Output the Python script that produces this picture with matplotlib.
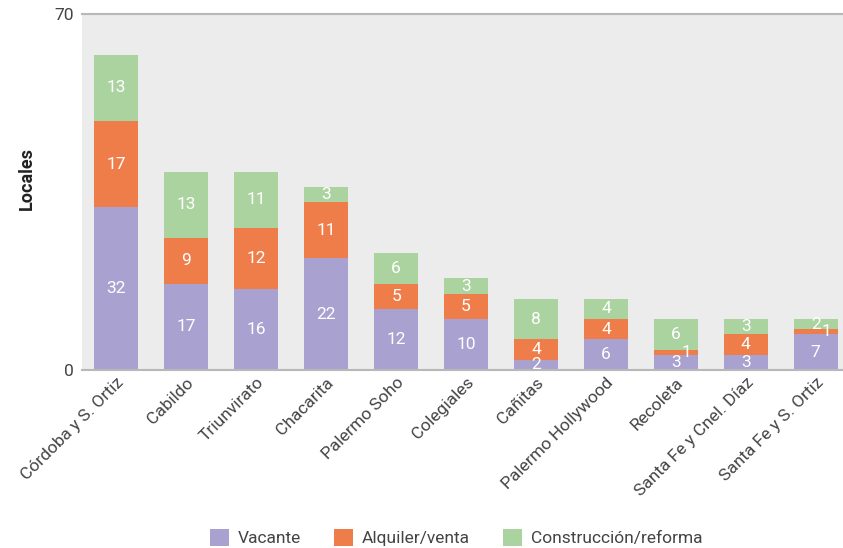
import matplotlib.pyplot as plt
from matplotlib.patches import Patch
import numpy as np

plt.rcParams['font.family'] = ['Roboto', 'DejaVu Sans']

barrios = ["Córdoba y S. Ortiz", "Cabildo", "Triunvirato", "Chacarita", "Palermo Soho",
           "Colegiales", "Cañitas", "Palermo Hollywood", "Recoleta",
           "Santa Fe y Cnel. Díaz", "Santa Fe y S. Ortiz"]
vacante      = [32, 17, 16, 22, 12, 10, 2, 6, 3, 3, 7]
alquiler     = [17, 9, 12, 11, 5, 5, 4, 4, 1, 4, 1]
construccion = [13, 13, 11, 3, 6, 3, 8, 4, 6, 3, 2]

series = [("Vacante", vacante, "#a9a1cf"),
          ("Alquiler/venta", alquiler, "#ef7d4a"),
          ("Construcción/reforma", construccion, "#abd3a0")]

fig = plt.figure(figsize=(8.43, 5.48), dpi=100)
ax = fig.add_axes([0.0973, 0.3248, 0.9027, 0.6497])
ax.set_facecolor("#ececec")

x = np.arange(len(barrios))
bottom = np.zeros(len(barrios))
for name, vals, col in series:
    vals = np.array(vals, dtype=float)
    ax.bar(x, vals, 0.63, bottom=bottom, color=col, label=name)
    for xi, b, v in zip(x, bottom, vals):
        dx = 0.15 if v == 1 else 0
        ax.text(xi + dx, b + v / 2, f"{int(v)}", ha='center', va='center',
                color='white', fontsize=12.5)
    bottom += vals

ax.set_xlim(-0.49, 10.39)
ax.set_ylim(0, 70)
ax.set_yticks([0, 70])
ax.tick_params(axis='y', length=0, labelsize=12.5, labelcolor='#444444', pad=6)
ax.tick_params(axis='x', length=0)
ax.set_xticks(x)
ax.set_xticklabels(barrios, rotation=45, ha='right', rotation_mode='anchor',
                   fontsize=12.5, color='#444444')
for spine in ['left', 'right']:
    ax.spines[spine].set_visible(False)
ax.spines['top'].set_color('#b8b8b8')
ax.spines['bottom'].set_color('#b8b8b8')
ax.spines['top'].set_linewidth(1.5)
ax.spines['bottom'].set_linewidth(1.5)
ax.set_ylabel("Locales", fontsize=13, fontweight='bold', color='#222222')
ax.yaxis.set_label_coords(-0.06, 0.537)

handles = [Patch(facecolor=c, label=n) for n, _, c in series]
fig.legend(handles=handles, loc='lower center', ncol=3, frameon=False,
           bbox_to_anchor=(0.541, -0.025), fontsize=12.5, handlelength=1.1,
           handleheight=1.1, columnspacing=1.9, handletextpad=0.5,
           labelcolor='#444444')

fig.savefig("out.png", dpi=100)
